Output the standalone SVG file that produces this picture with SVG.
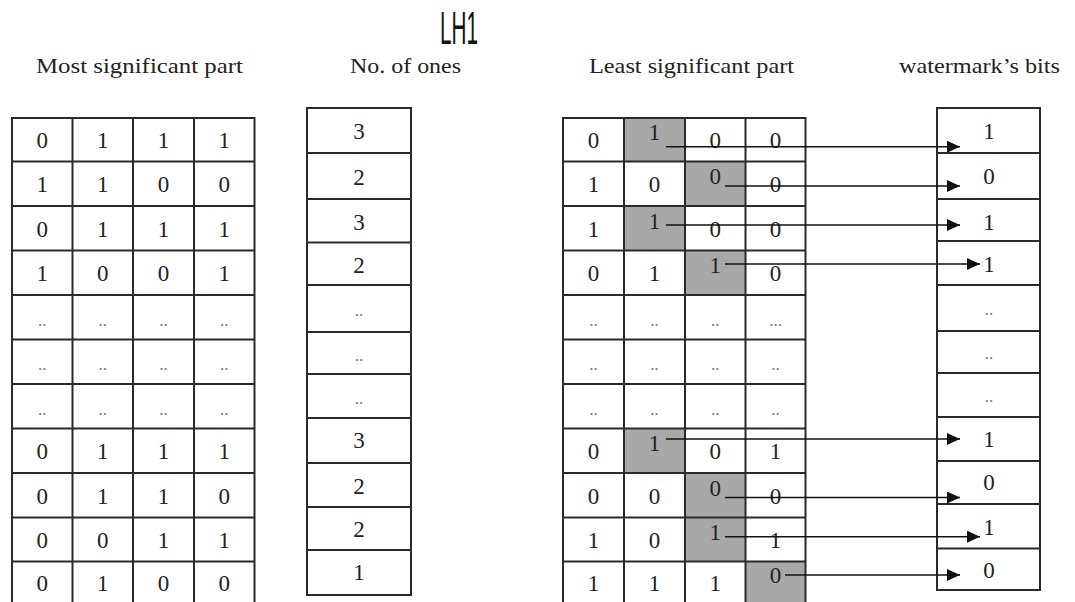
<svg xmlns="http://www.w3.org/2000/svg" width="1075" height="602" viewBox="0 0 1075 602">
<defs>
<style>
.bg{fill:#fff}
.grid{fill:none;stroke:#2a2a2a;stroke-width:2}
.shade{fill:#a8a8a8}
.hdr{font-family:"Liberation Serif",serif;font-size:22px;fill:#222}
.d{font-family:"Liberation Serif",serif;font-size:23px;fill:#222;text-anchor:middle}
.dot{font-family:"Liberation Serif",serif;font-size:17px;fill:#777;text-anchor:middle}
.arr{stroke:#111;stroke-width:1.6;fill:none;marker-end:url(#ah)}
</style>
<marker id="ah" markerUnits="userSpaceOnUse" markerWidth="14" markerHeight="13" refX="13" refY="6" orient="auto">
<path d="M0,0 L13,6 L0,12 Z" fill="#111"/>
</marker>
</defs>
<rect class="bg" x="0" y="0" width="1075" height="602"/>

<g id="title">
<text x="440" y="43.5" font-family="Liberation Sans, sans-serif" font-size="46" fill="#111" textLength="38" lengthAdjust="spacingAndGlyphs">LH1</text>
</g>

<g id="headers">
<text class="hdr" x="36" y="72.5" textLength="207" lengthAdjust="spacingAndGlyphs">Most significant part</text>
<text class="hdr" x="350" y="72.5" textLength="111" lengthAdjust="spacingAndGlyphs">No. of ones</text>
<text class="hdr" x="589" y="72.5" textLength="205" lengthAdjust="spacingAndGlyphs">Least significant part</text>
<text class="hdr" x="899" y="72.5" textLength="161" lengthAdjust="spacingAndGlyphs">watermark’s bits</text>
</g>

<g id="msb-table">
<rect class="grid" x="12" y="118" width="242.5" height="488"/>
<path class="grid" d="M72.5,118V606 M133,118V606 M194,118V606 M12,161.5H254.5 M12,206H254.5 M12,250.5H254.5 M12,295H254.5 M12,339.5H254.5 M12,384H254.5 M12,428.5H254.5 M12,473H254.5 M12,517.5H254.5 M12,561.5H254.5"/>
<text class="d" x="42.3" y="148">0</text><text class="d" x="102.8" y="148">1</text><text class="d" x="163.5" y="148">1</text><text class="d" x="224.3" y="148">1</text>
<text class="d" x="42.3" y="192">1</text><text class="d" x="102.8" y="192">1</text><text class="d" x="163.5" y="192">0</text><text class="d" x="224.3" y="192">0</text>
<text class="d" x="42.3" y="237">0</text><text class="d" x="102.8" y="237">1</text><text class="d" x="163.5" y="237">1</text><text class="d" x="224.3" y="237">1</text>
<text class="d" x="42.3" y="281">1</text><text class="d" x="102.8" y="281">0</text><text class="d" x="163.5" y="281">0</text><text class="d" x="224.3" y="281">1</text>
<text class="dot" x="42.3" y="326">..</text><text class="dot" x="102.8" y="326">..</text><text class="dot" x="163.5" y="326">..</text><text class="dot" x="224.3" y="326">..</text>
<text class="dot" x="42.3" y="370">..</text><text class="dot" x="102.8" y="370">..</text><text class="dot" x="163.5" y="370">..</text><text class="dot" x="224.3" y="370">..</text>
<text class="dot" x="42.3" y="415">..</text><text class="dot" x="102.8" y="415">..</text><text class="dot" x="163.5" y="415">..</text><text class="dot" x="224.3" y="415">..</text>
<text class="d" x="42.3" y="459">0</text><text class="d" x="102.8" y="459">1</text><text class="d" x="163.5" y="459">1</text><text class="d" x="224.3" y="459">1</text>
<text class="d" x="42.3" y="504">0</text><text class="d" x="102.8" y="504">1</text><text class="d" x="163.5" y="504">1</text><text class="d" x="224.3" y="504">0</text>
<text class="d" x="42.3" y="548">0</text><text class="d" x="102.8" y="548">0</text><text class="d" x="163.5" y="548">1</text><text class="d" x="224.3" y="548">1</text>
<text class="d" x="42.3" y="591">0</text><text class="d" x="102.8" y="591">1</text><text class="d" x="163.5" y="591">0</text><text class="d" x="224.3" y="591">0</text>
</g>

<g id="ones-column">
<rect class="grid" x="307" y="108" width="104" height="487"/>
<path class="grid" d="M307,153H411 M307,199H411 M307,242.5H411 M307,285H411 M307,332H411 M307,374H411 M307,418H411 M307,463H411 M307,507H411 M307,550H411"/>
<text class="d" x="359" y="138.5">3</text>
<text class="d" x="359" y="185">2</text>
<text class="d" x="359" y="230">3</text>
<text class="d" x="359" y="272.5">2</text>
<text class="dot" x="359" y="316">..</text>
<text class="dot" x="359" y="361">..</text>
<text class="dot" x="359" y="403.5">..</text>
<text class="d" x="359" y="448">3</text>
<text class="d" x="359" y="493.5">2</text>
<text class="d" x="359" y="536.5">2</text>
<text class="d" x="359" y="580">1</text>
</g>

<g id="lsb-table">
<rect class="shade" x="624" y="118" width="61" height="43.5"/>
<rect class="shade" x="685" y="161.5" width="60.5" height="44.5"/>
<rect class="shade" x="624" y="206" width="61" height="44.5"/>
<rect class="shade" x="685" y="250.5" width="60.5" height="44.5"/>
<rect class="shade" x="624" y="428.5" width="61" height="44.5"/>
<rect class="shade" x="685" y="473" width="60.5" height="44.5"/>
<rect class="shade" x="685" y="517.5" width="60.5" height="44"/>
<rect class="shade" x="745.5" y="561.5" width="60" height="44.5"/>
<rect class="grid" x="563" y="118" width="242.5" height="488"/>
<path class="grid" d="M624,118V606 M685,118V606 M745.5,118V606 M563,161.5H805.5 M563,206H805.5 M563,250.5H805.5 M563,295H805.5 M563,339.5H805.5 M563,384H805.5 M563,428.5H805.5 M563,473H805.5 M563,517.5H805.5 M563,561.5H805.5"/>
<text class="d" x="593.5" y="148">0</text><text class="d" x="654.5" y="139.5">1</text><text class="d" x="715.3" y="148">0</text><text class="d" x="775.5" y="148">0</text>
<text class="d" x="593.5" y="192">1</text><text class="d" x="654.5" y="192">0</text><text class="d" x="715.3" y="183.5">0</text><text class="d" x="775.5" y="192">0</text>
<text class="d" x="593.5" y="237">1</text><text class="d" x="654.5" y="228.5">1</text><text class="d" x="715.3" y="237">0</text><text class="d" x="775.5" y="237">0</text>
<text class="d" x="593.5" y="281">0</text><text class="d" x="654.5" y="281">1</text><text class="d" x="715.3" y="272.5">1</text><text class="d" x="775.5" y="281">0</text>
<text class="dot" x="593.5" y="326">..</text><text class="dot" x="654.5" y="326">..</text><text class="dot" x="715.3" y="326">..</text><text class="dot" x="775.5" y="326">...</text>
<text class="dot" x="593.5" y="370">..</text><text class="dot" x="654.5" y="370">..</text><text class="dot" x="715.3" y="370">..</text><text class="dot" x="775.5" y="370">..</text>
<text class="dot" x="593.5" y="415">..</text><text class="dot" x="654.5" y="415">..</text><text class="dot" x="715.3" y="415">..</text><text class="dot" x="775.5" y="415">..</text>
<text class="d" x="593.5" y="459">0</text><text class="d" x="654.5" y="450.5">1</text><text class="d" x="715.3" y="459">0</text><text class="d" x="775.5" y="459">1</text>
<text class="d" x="593.5" y="504">0</text><text class="d" x="654.5" y="504">0</text><text class="d" x="715.3" y="495.5">0</text><text class="d" x="775.5" y="504">0</text>
<text class="d" x="593.5" y="548">1</text><text class="d" x="654.5" y="548">0</text><text class="d" x="715.3" y="539.5">1</text><text class="d" x="775.5" y="548">1</text>
<text class="d" x="593.5" y="591">1</text><text class="d" x="654.5" y="591">1</text><text class="d" x="715.3" y="591">1</text><text class="d" x="775.5" y="583">0</text>
</g>

<g id="watermark-column">
<rect class="grid" x="937" y="108" width="103" height="482"/>
<path class="grid" d="M937,153H1040 M937,199H1040 M937,241H1040 M937,285H1040 M937,331H1040 M937,373H1040 M937,417H1040 M937,461H1040 M937,504H1040 M937,548.5H1040"/>
<text class="d" x="989" y="138.5">1</text>
<text class="d" x="989" y="184">0</text>
<text class="d" x="989" y="229.5">1</text>
<text class="d" x="989" y="271.5">1</text>
<text class="dot" x="989" y="315">..</text>
<text class="dot" x="989" y="359">..</text>
<text class="dot" x="989" y="402">..</text>
<text class="d" x="989" y="447.3">1</text>
<text class="d" x="989" y="490">0</text>
<text class="d" x="989" y="535">1</text>
<text class="d" x="989" y="578.3">0</text>
</g>

<g id="connectors">
<path class="arr" d="M666,146.7H960"/>
<path class="arr" d="M725,186H960"/>
<path class="arr" d="M666,225H960"/>
<path class="arr" d="M725,264H980"/>
<path class="arr" d="M666,439H960"/>
<path class="arr" d="M725,497.5H960"/>
<path class="arr" d="M725,536.7H980"/>
<path class="arr" d="M785,575H960"/>
</g>
</svg>
